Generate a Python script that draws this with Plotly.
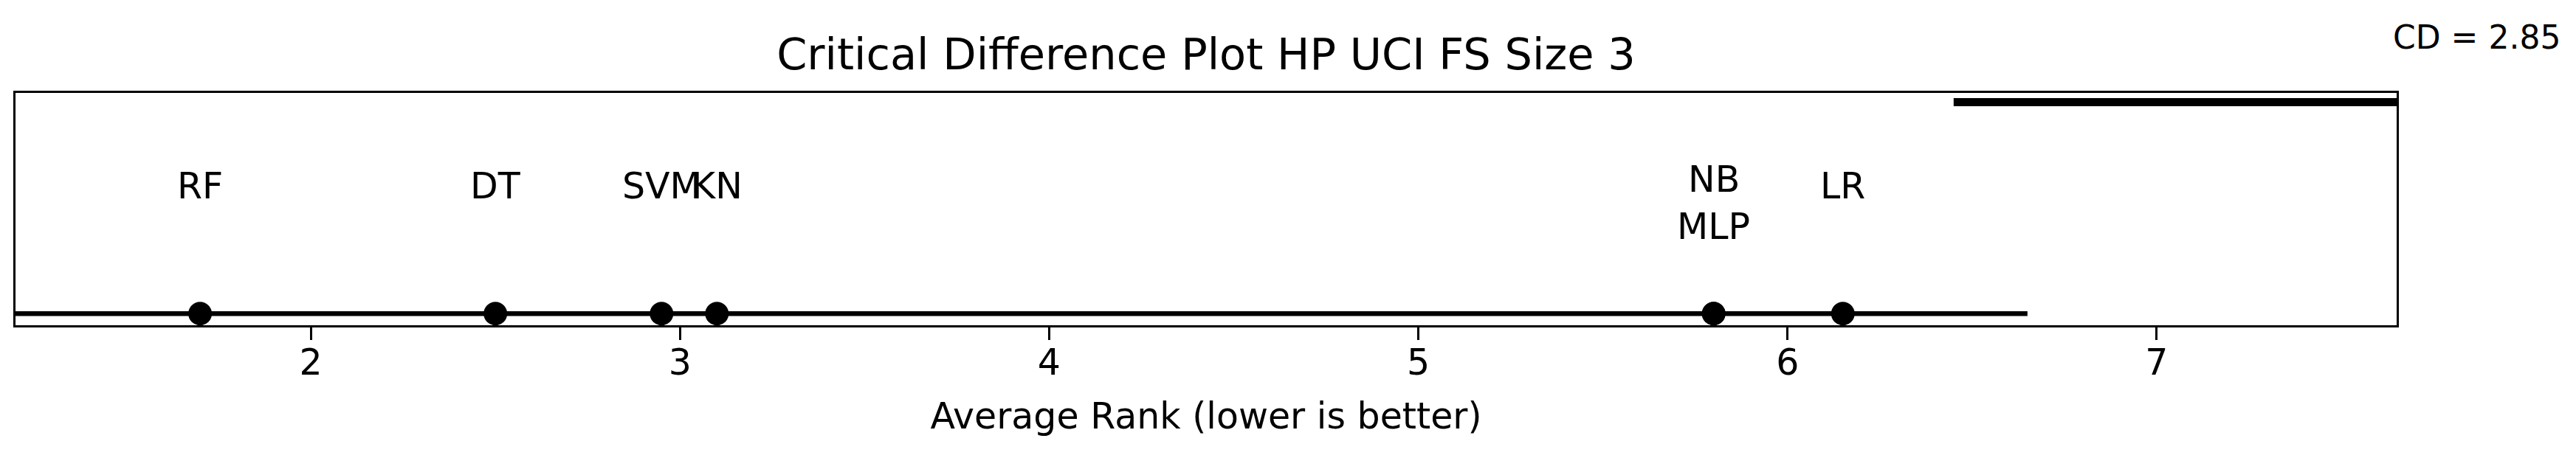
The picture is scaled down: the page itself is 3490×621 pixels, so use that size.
import plotly.graph_objects as go

# average ranks per classifier (lower is better)
names = ["RF", "DT", "SVM", "KN", "NB", "MLP", "LR"]
ranks = [1.70, 2.50, 2.95, 3.10, 5.80, 5.80, 6.15]
cd = 2.85
tick_vals = [2, 3, 4, 5, 6, 7]

FONT = "DejaVu Sans"
W, H = 3490, 621
L, R, T, B = 21, 243, 126, 180


def main() -> None:
    lo = min(ranks) - 0.5
    hi = max(ranks) + 0.5
    fig = go.Figure()

    # the long rank line
    fig.add_trace(go.Scatter(
        x=[lo, hi], y=[0.05, 0.05], mode="lines",
        line=dict(color="black", width=6.5), hoverinfo="skip",
    ))
    # CD bar, clipped at the right edge of the axes
    fig.add_trace(go.Scatter(
        x=[max(ranks) + 0.3, max(ranks) + 0.3 + cd], y=[0.96, 0.96], mode="lines",
        line=dict(color="black", width=11), hoverinfo="skip",
    ))
    fig.add_trace(go.Scatter(
        x=ranks, y=[0.05] * len(ranks), mode="markers",
        marker=dict(color="black", size=32), text=names,
    ))

    # labels, stacked when ranks tie
    seen = {}
    for name, r in zip(names, ranks):
        k = seen.get(r, 0)
        seen[r] = k + 1
        tied = ranks.count(r) > 1
        fig.add_annotation(
            x=r, y=0.6, xref="x", yref="y", text=name, showarrow=False,
            xanchor="center", yanchor="middle",
            font=dict(size=49, family=FONT, color="black"),
            yshift=(9 if tied else 0) - 64 * k,
        )

    fig.add_annotation(
        x=(3355 - L) / (W - L - R), y=(H - 51 - B) / (H - T - B),
        xref="paper", yref="paper", text=f"CD = {cd}",
        xanchor="center", yanchor="middle", showarrow=False,
        font=dict(size=44, family=FONT, color="black"),
    )

    fig.update_layout(
        width=W, height=H,
        margin=dict(l=L, r=R, t=T, b=B),
        paper_bgcolor="white", plot_bgcolor="white",
        showlegend=False,
        font=dict(family=FONT, color="black"),
        title=dict(
            text="Critical Difference Plot HP UCI FS Size 3",
            x=0.5, xref="paper", y=1 - 73 / H, yref="container",
            xanchor="center", yanchor="middle",
            font=dict(size=59, family=FONT, color="black"),
        ),
    )
    fig.update_xaxes(
        range=[lo, max(ranks) + 1.5], tickvals=tick_vals,
        ticks="outside", ticklen=17, tickwidth=3, tickcolor="black",
        ticklabelstandoff=-12,
        tickfont=dict(size=49, family=FONT, color="black"),
        showline=True, linecolor="black", linewidth=3, mirror=True,
        showgrid=False, zeroline=False,
        title=dict(text="Average Rank (lower is better)",
                   font=dict(size=49, family=FONT, color="black"), standoff=28),
    )
    fig.update_yaxes(
        range=[0, 1], showticklabels=False, ticks="",
        showline=True, linecolor="black", linewidth=3, mirror=True,
        showgrid=False, zeroline=False,
    )

    fig.write_html(
        "out.html",
        config={"displayModeBar": False},
        post_script="document.body.style.margin='0';",
    )


if __name__ == "__main__":
    main()
